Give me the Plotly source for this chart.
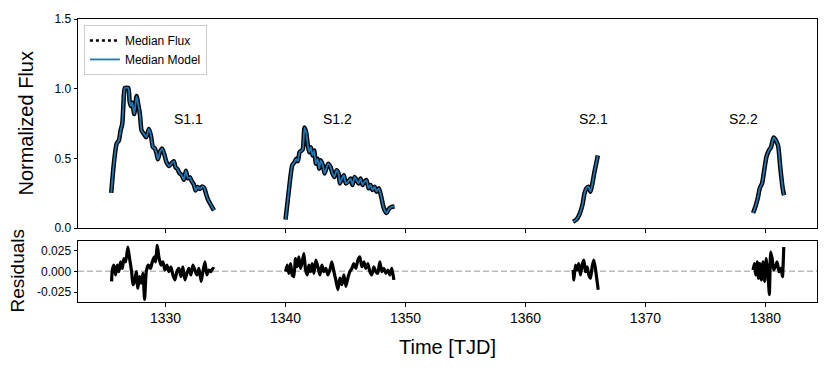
import plotly.graph_objects as go

# ---------------- data ----------------
s11_t = [1325.47, 1325.69, 1325.92, 1326.11, 1326.25, 1326.39, 1326.53, 1326.61, 1326.89, 1327.0,
         1327.11, 1327.22, 1327.39, 1327.58, 1327.72, 1327.86, 1328.0, 1328.19, 1328.39, 1328.61,
         1328.78, 1328.94, 1329.11, 1329.25, 1329.36, 1329.53, 1329.72, 1329.89, 1330.06, 1330.28,
         1330.5, 1330.69, 1330.83, 1331.0, 1331.17, 1331.33, 1331.53, 1331.69, 1331.86, 1332.03,
         1332.19, 1332.36, 1332.5, 1332.67, 1332.86, 1333.06, 1333.22, 1333.39, 1333.53, 1333.67,
         1333.83, 1334.03]
s11_f = [0.252, 0.464, 0.605, 0.629, 0.70, 0.747, 0.959, 1.005, 1.005, 0.91,
         0.876, 0.90, 0.818, 0.947, 0.888, 0.818, 0.70, 0.676, 0.652, 0.711,
         0.664, 0.582, 0.570, 0.535, 0.493, 0.546, 0.570, 0.530, 0.476, 0.445,
         0.464, 0.48, 0.436, 0.422, 0.393, 0.382, 0.346, 0.412, 0.358, 0.363,
         0.335, 0.311, 0.269, 0.295, 0.281, 0.299, 0.288, 0.240, 0.205, 0.182,
         0.158, 0.127]

s12_t = [1340.0, 1340.28, 1340.56, 1340.75, 1340.89, 1341.03, 1341.17, 1341.33, 1341.44, 1341.58,
         1341.72, 1341.86, 1341.97, 1342.11, 1342.25, 1342.39, 1342.53, 1342.67, 1342.81, 1342.94,
         1343.11, 1343.25, 1343.39, 1343.56, 1343.75, 1343.92, 1344.08, 1344.25, 1344.42, 1344.53,
         1344.69, 1344.86, 1345.03, 1345.22, 1345.42, 1345.58, 1345.75, 1345.92, 1346.08, 1346.25,
         1346.42, 1346.58, 1346.75, 1346.92, 1347.08, 1347.25, 1347.42, 1347.58, 1347.78, 1347.97,
         1348.19, 1348.42, 1348.61, 1348.83, 1349.08]
s12_f = [0.061, 0.273, 0.45, 0.473, 0.497, 0.48, 0.544, 0.556, 0.567, 0.721,
         0.686, 0.591, 0.544, 0.58, 0.521, 0.556, 0.462, 0.497, 0.426, 0.486,
         0.45, 0.391, 0.426, 0.462, 0.438, 0.391, 0.367, 0.415, 0.391, 0.32,
         0.355, 0.379, 0.32, 0.332, 0.355, 0.309, 0.367, 0.344, 0.32, 0.355,
         0.309, 0.332, 0.344, 0.285, 0.309, 0.273, 0.297, 0.261, 0.285, 0.226,
         0.143, 0.108, 0.136, 0.151, 0.155]

s21_t = [1363.97, 1364.25, 1364.47, 1364.64, 1364.78, 1364.92, 1365.08, 1365.25, 1365.42, 1365.58,
         1365.75, 1365.92, 1366.03]
s21_f = [0.045, 0.061, 0.092, 0.132, 0.179, 0.249, 0.285, 0.297, 0.261, 0.32,
         0.403, 0.473, 0.521]

s22_t = [1378.97, 1379.17, 1379.36, 1379.53, 1379.72, 1379.92, 1380.08, 1380.22, 1380.36, 1380.47,
         1380.58, 1380.69, 1380.8, 1380.89, 1381.06, 1381.25, 1381.44, 1381.55]
s22_f = [0.108, 0.155, 0.214, 0.285, 0.32, 0.426, 0.509, 0.544, 0.567, 0.58,
         0.62, 0.65, 0.64, 0.627, 0.59, 0.426, 0.285, 0.235]

# model follows the flux closely
s11_m, s12_m, s21_m, s22_m = list(s11_f), list(s12_f), list(s21_f), list(s22_f)

r11_t = [1325.5, 1325.56, 1325.69, 1325.83, 1325.97, 1326.11, 1326.25, 1326.39, 1326.53, 1326.67,
         1326.86, 1327.0, 1327.17, 1327.28, 1327.42, 1327.56, 1327.69, 1327.83, 1327.97, 1328.11,
         1328.25, 1328.39, 1328.56, 1328.75, 1328.89, 1329.06, 1329.17, 1329.31, 1329.44, 1329.61,
         1329.78, 1329.94, 1330.11, 1330.28, 1330.44, 1330.61, 1330.78, 1330.94, 1331.11, 1331.28,
         1331.44, 1331.61, 1331.78, 1331.94, 1332.11, 1332.28, 1332.44, 1332.61, 1332.78, 1332.97,
         1333.11, 1333.28, 1333.44, 1333.61, 1333.78, 1333.94, 1334.06]
r11_v = [-0.012, 0.0016, 0.0074, -0.0043, 0.0074, -0.0004, 0.0113, 0.0035, 0.0152, 0.0113,
         0.029, 0.0152, -0.0004, -0.016, -0.012, -0.0004, -0.020, -0.0063, -0.014, -0.0023,
         -0.0336, -0.0004, 0.0074, 0.0035, 0.0113, 0.0172, 0.0113, 0.031, 0.0172, 0.0074,
         0.0113, 0.0016, 0.0074, -0.0004, 0.0055, -0.0043, -0.0102, -0.0004, 0.0035, -0.0063,
         0.0055, -0.0102, -0.0023, 0.0035, -0.0043, 0.0074, 0.0016, -0.0043, 0.0035, -0.012,
         -0.0004, 0.0113, -0.0043, 0.0016, -0.0004, 0.0035, 0.0027]

r12_t = [1340.0, 1340.14, 1340.28, 1340.42, 1340.56, 1340.69, 1340.83, 1340.97, 1341.11, 1341.25,
         1341.39, 1341.53, 1341.67, 1341.81, 1341.94, 1342.08, 1342.22, 1342.36, 1342.53, 1342.69,
         1342.86, 1343.03, 1343.19, 1343.36, 1343.53, 1343.69, 1343.86, 1344.03, 1344.19, 1344.36,
         1344.53, 1344.69, 1344.86, 1345.03, 1345.19, 1345.36, 1345.53, 1345.69, 1345.86, 1346.03,
         1346.19, 1346.36, 1346.53, 1346.69, 1346.86, 1347.03, 1347.19, 1347.36, 1347.53, 1347.69,
         1347.86, 1348.03, 1348.19, 1348.36, 1348.53, 1348.69, 1348.86, 1349.03]
r12_v = [-0.0004, 0.0074, -0.0023, 0.0094, -0.0043, -0.0063, 0.0152, 0.0055, 0.0172, 0.0035,
         0.0113, 0.0211, 0.0016, -0.0043, 0.0074, -0.0004, 0.0094, -0.0023, 0.0133, 0.0055,
         -0.0043, 0.0074, -0.0004, 0.0035, -0.0043, 0.0016, 0.0113, -0.0004, -0.0102, -0.0219,
         -0.0082, -0.016, -0.0043, -0.018, -0.0082, -0.0004, 0.0035, 0.0094, 0.0035, 0.0133,
         0.0172, 0.0055, 0.0113, 0.0035, 0.0094, -0.0004, -0.0043, 0.0055, -0.0004, -0.0023,
         0.0113, -0.0004, 0.0035, -0.0023, 0.0016, -0.0043, 0.0035, -0.0102]

r21_t = [1363.97, 1364.03, 1364.17, 1364.31, 1364.44, 1364.58, 1364.72, 1364.86, 1365.0, 1365.14,
         1365.28, 1365.42, 1365.56, 1365.69, 1365.83, 1365.97, 1366.06]
r21_v = [0.0016, -0.0102, 0.0074, 0.0016, 0.0094, -0.0043, 0.0074, 0.0133, -0.0004, 0.0055,
         -0.0043, -0.0082, 0.0055, 0.0133, 0.0035, -0.012, -0.022]

r22_t = [1378.97, 1379.08, 1379.19, 1379.31, 1379.42, 1379.53, 1379.67, 1379.81, 1379.94, 1380.08,
         1380.22, 1380.33, 1380.44, 1380.56, 1380.69, 1380.83, 1380.97, 1381.14, 1381.31, 1381.42,
         1381.53]
r22_v = [0.0016, 0.0094, -0.0043, 0.0113, -0.0082, 0.0094, -0.0102, 0.0113, -0.012, 0.0152,
         -0.0043, -0.0278, 0.023, 0.0152, 0.0016, 0.0055, 0.0113, -0.0004, 0.0035, -0.0063,
         0.029]

seg_labels = ["S1.1", "S1.2", "S2.1", "S2.2"]
seg_label_x = [1331.9, 1344.3, 1365.7, 1378.2]
seg_label_y = [0.78, 0.78, 0.78, 0.78]

x_ticks = [1330, 1340, 1350, 1360, 1370, 1380]
flux_ticks = [0.0, 0.5, 1.0, 1.5]
res_ticks = [-0.025, 0.0, 0.025]


def join(*segs):
    out = []
    for i, s in enumerate(segs):
        if i:
            out.append(None)
        out.extend(s)
    return out


t_flux = join(s11_t, s12_t, s21_t, s22_t)
flux = join(s11_f, s12_f, s21_f, s22_f)
model = join(s11_m, s12_m, s21_m, s22_m)
t_res = join(r11_t, r12_t, r21_t, r22_t)
res = join(r11_v, r12_v, r21_v, r22_v)

FONT = "Liberation Sans, Arial, sans-serif"
BLUE = "#1f77b4"

fig = go.Figure()

# flux (thick black) drawn first
fig.add_trace(go.Scatter(x=t_flux, y=flux, mode="lines",
                         line=dict(color="black", width=4.5, shape="spline", smoothing=0.6),
                         showlegend=False, hoverinfo="skip", xaxis="x", yaxis="y"))
# legend entry for the dotted flux
fig.add_trace(go.Scatter(x=[None], y=[None], mode="lines", name="Median Flux",
                         line=dict(color="black", width=2.5, dash="dot"), xaxis="x", yaxis="y"))
fig.add_trace(go.Scatter(x=t_flux, y=model, mode="lines", name="Median Model",
                         line=dict(color=BLUE, width=1.8, shape="spline", smoothing=0.6),
                         xaxis="x", yaxis="y"))

# residuals
fig.add_trace(go.Scatter(x=t_res, y=res, mode="lines",
                         line=dict(color="black", width=3.2, shape="spline", smoothing=0.5),
                         showlegend=False, xaxis="x2", yaxis="y2"))

axis_common = dict(showline=True, linecolor="black", linewidth=1, mirror=True,
                   ticks="outside", ticklen=3.5, tickwidth=0.8, tickcolor="black",
                   showgrid=False, zeroline=False)

fig.update_layout(
    width=831, height=370,
    margin=dict(l=78, r=14, t=15, b=68),
    paper_bgcolor="white", plot_bgcolor="white",
    font=dict(family=FONT, color="black"),
    xaxis=dict(domain=[0, 1], range=[1322.7, 1384.3], anchor="y", matches="x2",
               tickvals=x_ticks, showticklabels=False, **axis_common),
    yaxis=dict(domain=[0.2613, 1], range=[0, 1.5], anchor="x",
               tickvals=flux_ticks, ticktext=[f"{v:.1f}" for v in flux_ticks],
               tickfont=dict(size=12), **axis_common),
    xaxis2=dict(domain=[0, 1], range=[1322.7, 1384.3], anchor="y2",
                tickvals=x_ticks, ticktext=[str(v) for v in x_ticks],
                tickfont=dict(size=14), **axis_common),
    yaxis2=dict(domain=[0, 0.216], range=[-0.0366, 0.0364], anchor="x2",
                tickvals=res_ticks, ticktext=[f"{v:.3f}" for v in res_ticks],
                tickfont=dict(size=12), **axis_common),
    legend=dict(x=0.008, y=0.979, xanchor="left", yanchor="top",
                bgcolor="white", bordercolor="#cccccc", borderwidth=1,
                font=dict(size=12), itemwidth=30, tracegroupgap=0),
    showlegend=True,
)

# dashed zero line in residual panel
fig.add_shape(type="line", xref="x2 domain", yref="y2", x0=0, x1=1, y0=0, y1=0,
              line=dict(color="#bbbbbb", width=1.5, dash="6px,3px"), layer="below")

for lab, lx, ly in zip(seg_labels, seg_label_x, seg_label_y):
    fig.add_annotation(x=lx, y=ly, xref="x", yref="y", text=lab, showarrow=False,
                       font=dict(size=14, family=FONT))

# axis titles
fig.add_annotation(x=26, y=121, xref="paper", yref="paper", text="Normalized Flux",
                   textangle=-90, showarrow=False, font=dict(size=20))
fig.add_annotation(x=17, y=271, xref="paper", yref="paper", text="Residuals",
                   textangle=-90, showarrow=False, font=dict(size=19))
fig.add_annotation(x=447, y=348, xref="paper", yref="paper", text="Time [TJD]",
                   showarrow=False, font=dict(size=20))

# convert pixel positions of the title annotations to paper coordinates
pw, ph = 831 - 78 - 14, 370 - 15 - 68
for ann in fig.layout.annotations:
    if ann.xref == "paper":
        ann.x = (ann.x - 78) / pw
        ann.y = (370 - 68 - ann.y) / ph
        ann.xanchor = "center"
        ann.yanchor = "middle"

fig.write_html("out.html", config={"displayModeBar": False},
               post_script="document.body.style.margin='0';document.body.style.padding='0';")
